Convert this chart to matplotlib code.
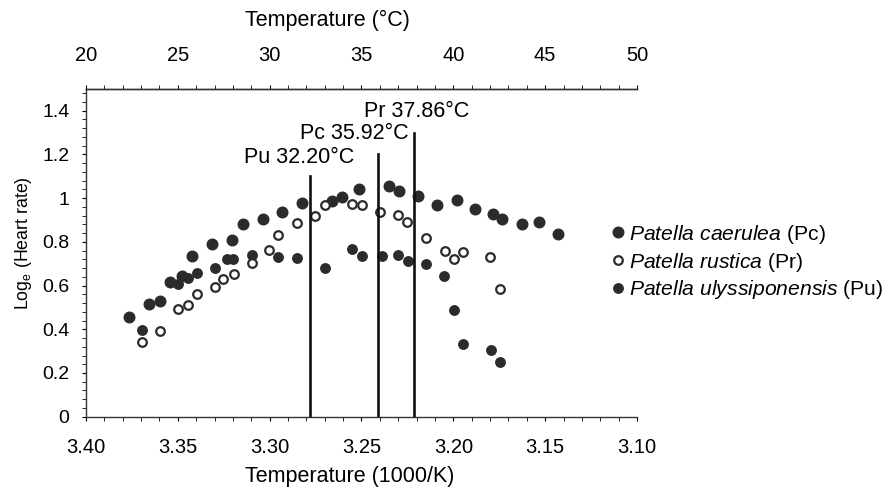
import numpy as np
import matplotlib
matplotlib.use('Agg')
import matplotlib.pyplot as plt
from matplotlib.ticker import MultipleLocator

plt.rcParams.update({
    'font.family': ['Liberation Sans', 'DejaVu Sans'],
    'mathtext.fontset': 'custom',
    'mathtext.rm': 'Liberation Sans',
    'mathtext.it': 'Liberation Sans:italic',
    'font.size': 14,
})

# ── data (x in °C, y = log_e heart rate) ─────────────────────────────────────
pc_t = [22.34, 23.45, 24.03, 24.57, 25.21, 25.75, 26.84, 27.93, 28.53, 29.62,
        30.65, 31.77, 33.37, 33.92, 34.86, 36.51, 37.05, 38.09, 39.12, 40.18,
        41.18, 42.14, 42.63, 43.72, 44.68, 45.71]
pc_y = [0.456, 0.517, 0.528, 0.615, 0.646, 0.735, 0.791, 0.808, 0.880, 0.906,
        0.937, 0.980, 0.987, 1.006, 1.044, 1.056, 1.033, 1.010, 0.967, 0.992,
        0.949, 0.926, 0.903, 0.880, 0.891, 0.834]

pr_t = [23.03, 24.03, 25.02, 25.57, 26.03, 27.02, 27.47, 28.06, 29.02, 29.98,
        30.47, 31.50, 32.47, 33.01, 34.46, 35.01, 36.00, 37.00, 37.49, 38.51,
        39.54, 40.03, 40.54, 42.01, 42.54]
pr_y = [0.340, 0.393, 0.493, 0.513, 0.563, 0.592, 0.631, 0.652, 0.704, 0.765,
        0.830, 0.885, 0.918, 0.967, 0.972, 0.967, 0.937, 0.921, 0.891, 0.819,
        0.758, 0.723, 0.753, 0.730, 0.586]

pu_t = [23.03, 25.02, 25.57, 26.03, 27.02, 27.66, 28.02, 29.02, 30.47, 31.50,
        33.01, 34.46, 35.01, 36.10, 37.00, 37.55, 38.51, 39.50, 40.05, 40.54,
        42.03, 42.54]
pu_y = [0.395, 0.605, 0.635, 0.658, 0.681, 0.723, 0.720, 0.738, 0.732, 0.727,
        0.681, 0.769, 0.735, 0.735, 0.738, 0.712, 0.697, 0.646, 0.487, 0.332,
        0.306, 0.248]

# critical temperatures and heights of the marker lines
crit_names = ['Pu', 'Pc', 'Pr']
crit_temp = [32.20, 35.92, 37.86]
crit_top = [1.10, 1.20, 1.30]

top_ticks = [20, 25, 30, 35, 40, 45, 50]
bottom_labels = ['3.40', '3.35', '3.30', '3.25', '3.20', '3.15', '3.10']

DARK = '#2b2b2b'

fig = plt.figure(figsize=(8.93, 4.90), dpi=100)
ax = fig.add_axes([0.0963, 0.1496, 0.617, 0.669])

ax.plot(pc_t, pc_y, ls='none', marker='o', ms=7.6, mfc=DARK, mec=DARK,
        label=r'$\mathit{Patella\ caerulea}$ (Pc)', zorder=3)
ax.plot(pr_t, pr_y, ls='none', marker='o', ms=6.2, mfc='white', mec=DARK,
        mew=1.6, label=r'$\mathit{Patella\ rustica}$ (Pr)', zorder=4)
ax.plot(pu_t, pu_y, ls='none', marker='o', ms=6.8, mfc=DARK, mec=DARK,
        label=r'$\mathit{Patella\ ulyssiponensis}$ (Pu)', zorder=3)

for name, t, top in zip(crit_names, crit_temp, crit_top):
    ax.plot([t, t], [0, top], color='#111111', lw=1.9, zorder=5)

ax.text(31.6, 1.14, 'Pu 32.20°C', ha='center', va='bottom', fontsize=15.5)
ax.text(34.59, 1.25, 'Pc 35.92°C', ha='center', va='bottom', fontsize=15.5)
ax.text(37.99, 1.35, 'Pr 37.86°C', ha='center', va='bottom', fontsize=15.5)

ax.set_xlim(20, 50)
ax.set_ylim(0, 1.5)

ax.spines['right'].set_visible(False)
for s in ['left', 'bottom', 'top']:
    ax.spines[s].set_linewidth(1.0)
    ax.spines[s].set_color('#333333')

ax.set_xticks(top_ticks)
ax.set_xticklabels(bottom_labels)
ax.xaxis.set_minor_locator(MultipleLocator(1))
ax.set_yticks([0, 0.2, 0.4, 0.6, 0.8, 1.0, 1.2, 1.4])
ax.set_yticklabels(['0', '0.2', '0.4', '0.6', '0.8', '1', '1.2', '1.4'])
ax.yaxis.set_minor_locator(MultipleLocator(0.04))
ax.tick_params(axis='x', which='both', direction='out', length=3, pad=12,
               labelsize=14.5)
ax.tick_params(axis='y', which='both', direction='out', length=3, pad=9,
               labelsize=14)

sec = ax.secondary_xaxis('top')
sec.set_xticks(top_ticks)
sec.set_xticklabels([str(t) for t in top_ticks])
sec.xaxis.set_minor_locator(MultipleLocator(1))
sec.tick_params(which='both', direction='out', length=3, pad=14, labelsize=14.5)
sec.spines['top'].set_linewidth(1.0)
sec.spines['top'].set_color('#333333')

fig.text(327 / 893, 1 - 20 / 490, 'Temperature (°C)', ha='center', va='center',
         fontsize=15.5)
fig.text(350 / 893, 1 - 476 / 490, 'Temperature (1000/K)', ha='center',
         va='center', fontsize=15.5)
fig.text(24 / 893, 1 - 243 / 490, r'Log$_{\mathrm{e}}$ (Heart rate)', ha='center',
         va='center', rotation=90, fontsize=12.8)

fig.legend(loc='center left', bbox_to_anchor=(597 / 893, 1 - 262 / 490),
           frameon=False, fontsize=15.2, handletextpad=0.0, handlelength=1.0,
           labelspacing=0.22, borderpad=0)

fig.savefig('out.png', dpi=100)
